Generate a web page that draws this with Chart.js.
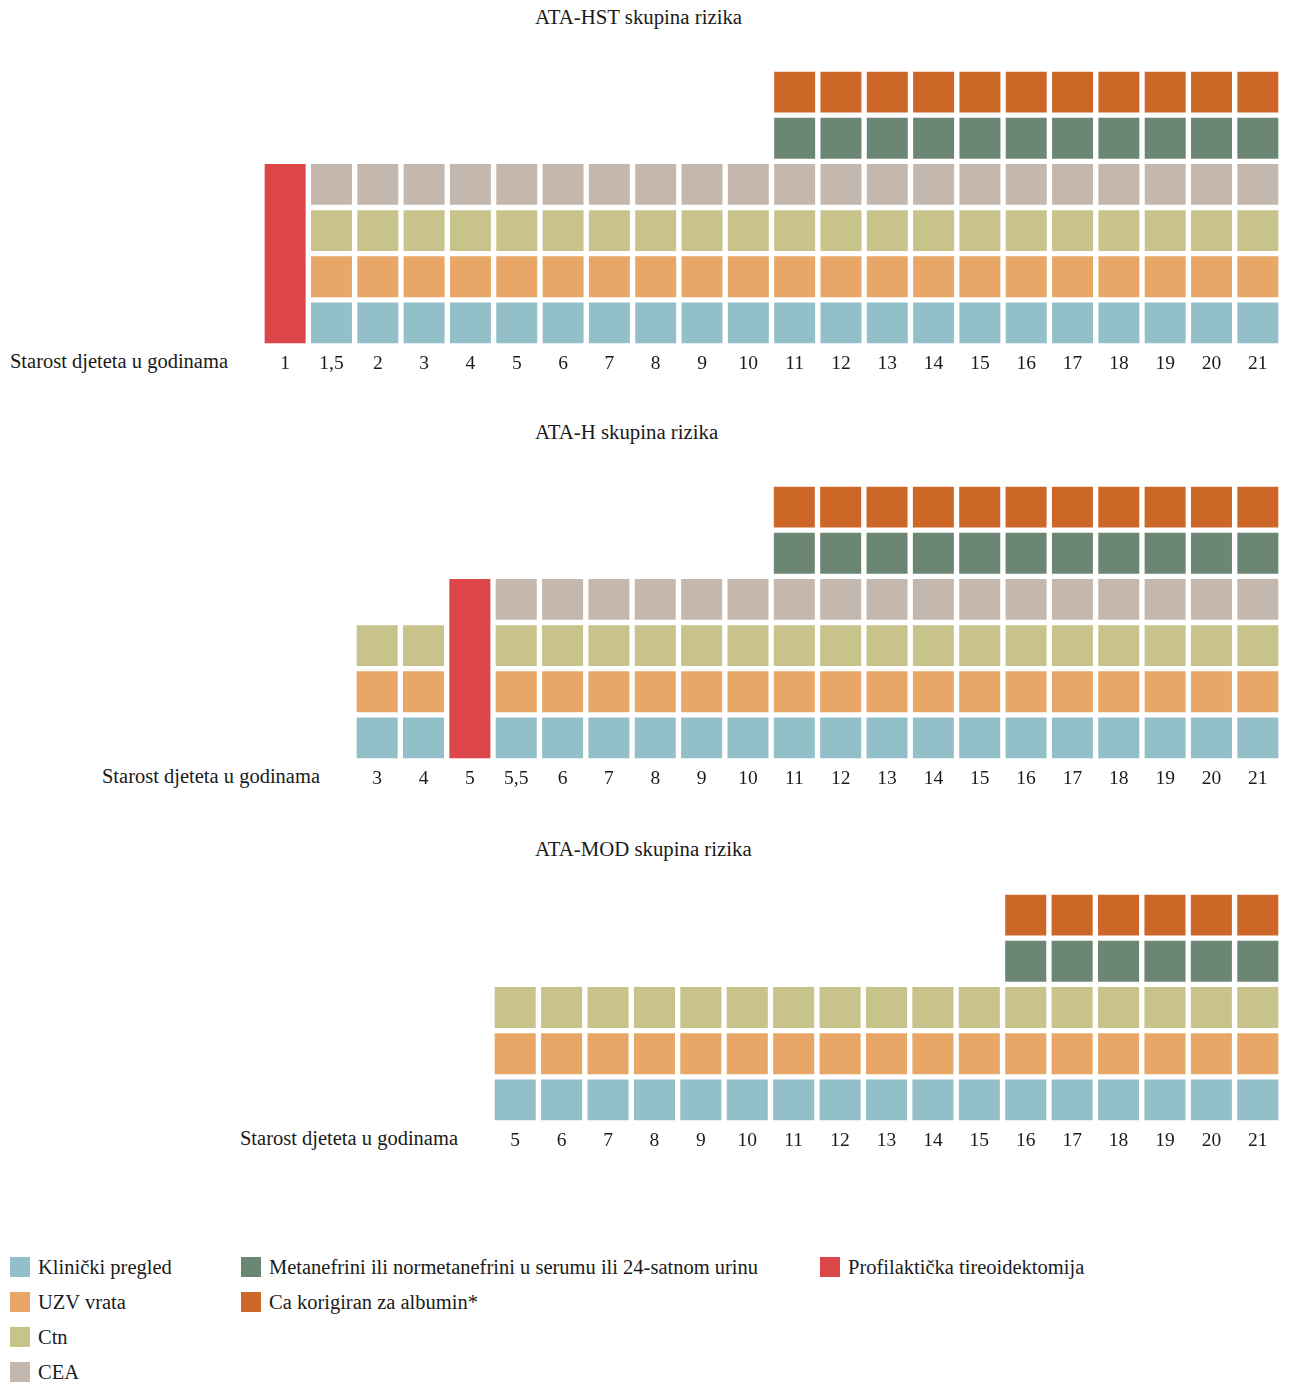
<!DOCTYPE html>
<html>
<head>
<meta charset="utf-8">
<script src="https://cdn.jsdelivr.net/npm/chart.js@4/dist/chart.umd.min.js"></script>
<style>
  html, body { margin: 0; padding: 0; background: #ffffff; }
  #page { position: relative; width: 1290px; height: 1383px; background: #ffffff; overflow: hidden;
          font-family: "Liberation Serif", "DejaVu Serif", serif; color: #1a1a1a; }
  canvas { position: absolute; left: 0; }
  .title { position: absolute; left: 535px; font-size: 20.8px; line-height: 24px; white-space: nowrap; }
  .axislbl { position: absolute; font-size: 20.5px; line-height: 24px; white-space: nowrap; text-align: right; width: 260px; }
  .lg { position: absolute; font-size: 20.5px; line-height: 24px; white-space: nowrap; }
  .lg span.sw { position: absolute; left: 0; top: 2px; width: 20px; height: 20px; }
  .lg span.tx { position: absolute; left: 28px; top: 0; }
</style>
</head>
<body>
<div id="page">
  <div class="title" style="top:5px;">ATA-HST skupina rizika</div>
  <div class="title" style="top:420px;">ATA-H skupina rizika</div>
  <div class="title" style="top:837px;">ATA-MOD skupina rizika</div>

  <div class="axislbl" style="left:-32px; top:349px;">Starost djeteta u godinama</div>
  <div class="axislbl" style="left:60px; top:764px;">Starost djeteta u godinama</div>
  <div class="axislbl" style="left:198px; top:1126px;">Starost djeteta u godinama</div>

  <canvas id="c1" width="1290" height="376" style="top:0px;"></canvas>
  <canvas id="c2" width="1290" height="376" style="top:415px;"></canvas>
  <canvas id="c3" width="1290" height="330" style="top:823px;"></canvas>

  <div id="legend"></div>
</div>
<script>
// ---------- DATA ----------
// ATA-HST
const hstAges = ['1','1,5','2','3','4','5','6','7','8','9','10','11','12','13','14','15','16','17','18','19','20','21'];
const hstTireoidektomija = [4,null,null,null,null,null,null,null,null,null,null,null,null,null,null,null,null,null,null,null,null,null];
const hstKlinicki = [null,1,1,1,1,1,1,1,1,1,1,1,1,1,1,1,1,1,1,1,1,1];
const hstUzv      = [null,1,1,1,1,1,1,1,1,1,1,1,1,1,1,1,1,1,1,1,1,1];
const hstCtn      = [null,1,1,1,1,1,1,1,1,1,1,1,1,1,1,1,1,1,1,1,1,1];
const hstCea      = [null,1,1,1,1,1,1,1,1,1,1,1,1,1,1,1,1,1,1,1,1,1];
const hstMetanefrini = [null,null,null,null,null,null,null,null,null,null,null,1,1,1,1,1,1,1,1,1,1,1];
const hstCa          = [null,null,null,null,null,null,null,null,null,null,null,1,1,1,1,1,1,1,1,1,1,1];

// ATA-H
const hAges = ['3','4','5','5,5','6','7','8','9','10','11','12','13','14','15','16','17','18','19','20','21'];
const hTireoidektomija = [null,null,4,null,null,null,null,null,null,null,null,null,null,null,null,null,null,null,null,null];
const hKlinicki = [1,1,null,1,1,1,1,1,1,1,1,1,1,1,1,1,1,1,1,1];
const hUzv      = [1,1,null,1,1,1,1,1,1,1,1,1,1,1,1,1,1,1,1,1];
const hCtn      = [1,1,null,1,1,1,1,1,1,1,1,1,1,1,1,1,1,1,1,1];
const hCea      = [null,null,null,1,1,1,1,1,1,1,1,1,1,1,1,1,1,1,1,1];
const hMetanefrini = [null,null,null,null,null,null,null,null,null,1,1,1,1,1,1,1,1,1,1,1];
const hCa          = [null,null,null,null,null,null,null,null,null,1,1,1,1,1,1,1,1,1,1,1];

// ATA-MOD
const modAges = ['5','6','7','8','9','10','11','12','13','14','15','16','17','18','19','20','21'];
const modKlinicki = [1,1,1,1,1,1,1,1,1,1,1,1,1,1,1,1,1];
const modUzv      = [1,1,1,1,1,1,1,1,1,1,1,1,1,1,1,1,1];
const modCtn      = [1,1,1,1,1,1,1,1,1,1,1,1,1,1,1,1,1];
const modMetanefrini = [null,null,null,null,null,null,null,null,null,null,null,1,1,1,1,1,1];
const modCa          = [null,null,null,null,null,null,null,null,null,null,null,1,1,1,1,1,1];

const seriesNames = {
  tir: 'Profilaktička tireoidektomija',
  kli: 'Klinički pregled',
  uzv: 'UZV vrata',
  ctn: 'Ctn',
  cea: 'CEA',
  met: 'Metanefrini ili normetanefrini u serumu ili 24-satnom urinu',
  ca:  'Ca korigiran za albumin*'
};

// ---------- STYLE ----------
const colors = {
  tir: '#dc4648',
  kli: '#93bfc9',
  uzv: '#e8a766',
  ctn: '#c7c38b',
  cea: '#c4b8ae',
  met: '#6b8773',
  ca:  '#cc6728'
};

function ds(key, data) {
  return {
    label: seriesNames[key],
    data: data,
    backgroundColor: colors[key],
    borderColor: '#ffffff',
    borderWidth: 3,
    borderSkipped: false,
    barPercentage: 1,
    categoryPercentage: 1,
    stack: 's'
  };
}

function makeChart(id, labels, datasets, yMax, padLeft) {
  return new Chart(document.getElementById(id), {
    type: 'bar',
    data: { labels: labels, datasets: datasets },
    options: {
      responsive: false,
      animation: false,
      layout: { padding: { left: padLeft, right: 9, top: 69, bottom: 0 } },
      plugins: { legend: { display: false }, tooltip: { enabled: false }, title: { display: false } },
      scales: {
        x: {
          stacked: true,
          grid: { display: false, drawTicks: false },
          border: { display: false },
          ticks: { color: '#1a1a1a', padding: 6, maxRotation: 0, autoSkip: false,
                   font: { family: '"Liberation Serif", "Times New Roman", serif', size: 19.5 } },
          afterFit: function (scale) { scale.height = 30; }
        },
        y: { stacked: true, display: false, min: 0, max: yMax }
      }
    }
  });
}

makeChart('c1', hstAges, [
  ds('tir', hstTireoidektomija), ds('kli', hstKlinicki), ds('uzv', hstUzv), ds('ctn', hstCtn),
  ds('cea', hstCea), ds('met', hstMetanefrini), ds('ca', hstCa)
], 6, 262);

makeChart('c2', hAges, [
  ds('tir', hTireoidektomija), ds('kli', hKlinicki), ds('uzv', hUzv), ds('ctn', hCtn),
  ds('cea', hCea), ds('met', hMetanefrini), ds('ca', hCa)
], 6, 354);

makeChart('c3', modAges, [
  ds('kli', modKlinicki), ds('uzv', modUzv), ds('ctn', modCtn),
  ds('met', modMetanefrini), ds('ca', modCa)
], 5, 492);

// ---------- LEGEND (HTML) ----------
const legendItems = [
  ['kli', 10, 1255], ['uzv', 10, 1290], ['ctn', 10, 1325], ['cea', 10, 1360],
  ['met', 241, 1255], ['ca', 241, 1290],
  ['tir', 820, 1255]
];
const lg = document.getElementById('legend');
legendItems.forEach(function (it) {
  const d = document.createElement('div');
  d.className = 'lg';
  d.style.left = it[1] + 'px';
  d.style.top = it[2] + 'px';
  const sw = document.createElement('span');
  sw.className = 'sw';
  sw.style.background = colors[it[0]];
  const tx = document.createElement('span');
  tx.className = 'tx';
  tx.textContent = seriesNames[it[0]];
  d.appendChild(sw); d.appendChild(tx);
  lg.appendChild(d);
});
</script>
</body>
</html>
